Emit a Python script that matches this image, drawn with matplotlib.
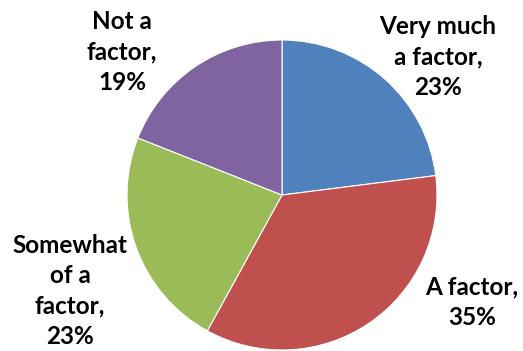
import matplotlib.pyplot as plt

# share of responses per category, clockwise from 12 o'clock
labels = ['Very much\na factor,\n23%', 'A factor,\n35%',
          'Somewhat\nof a\nfactor,\n23%', 'Not a\nfactor,\n19%']
values = [23, 35, 23, 19]
colors = ['#4F81BD', '#C0504D', '#9BBB59', '#8064A2']

fig = plt.figure(figsize=(5.23, 3.51), dpi=100)
ax = fig.add_axes([0, 0, 1, 1])
ax.axis('off')

ax.pie(values, colors=colors, startangle=90, counterclock=False,
       center=(282, 156), radius=155,
       wedgeprops=dict(edgecolor='white', linewidth=0.8))
ax.set_xlim(0, 523)
ax.set_ylim(0, 351)
ax.set_aspect('equal')

# label positions (centre of each text block)
label_xy = [(438, 294), (472, 49), (70, 60), (122, 299)]
for txt, (x, y) in zip(labels, label_xy):
    ax.text(x, y, txt, ha='center', va='center', fontsize=17.5,
            fontweight='bold', family='Lato', linespacing=1.4)

fig.savefig('out.png', dpi=100)
